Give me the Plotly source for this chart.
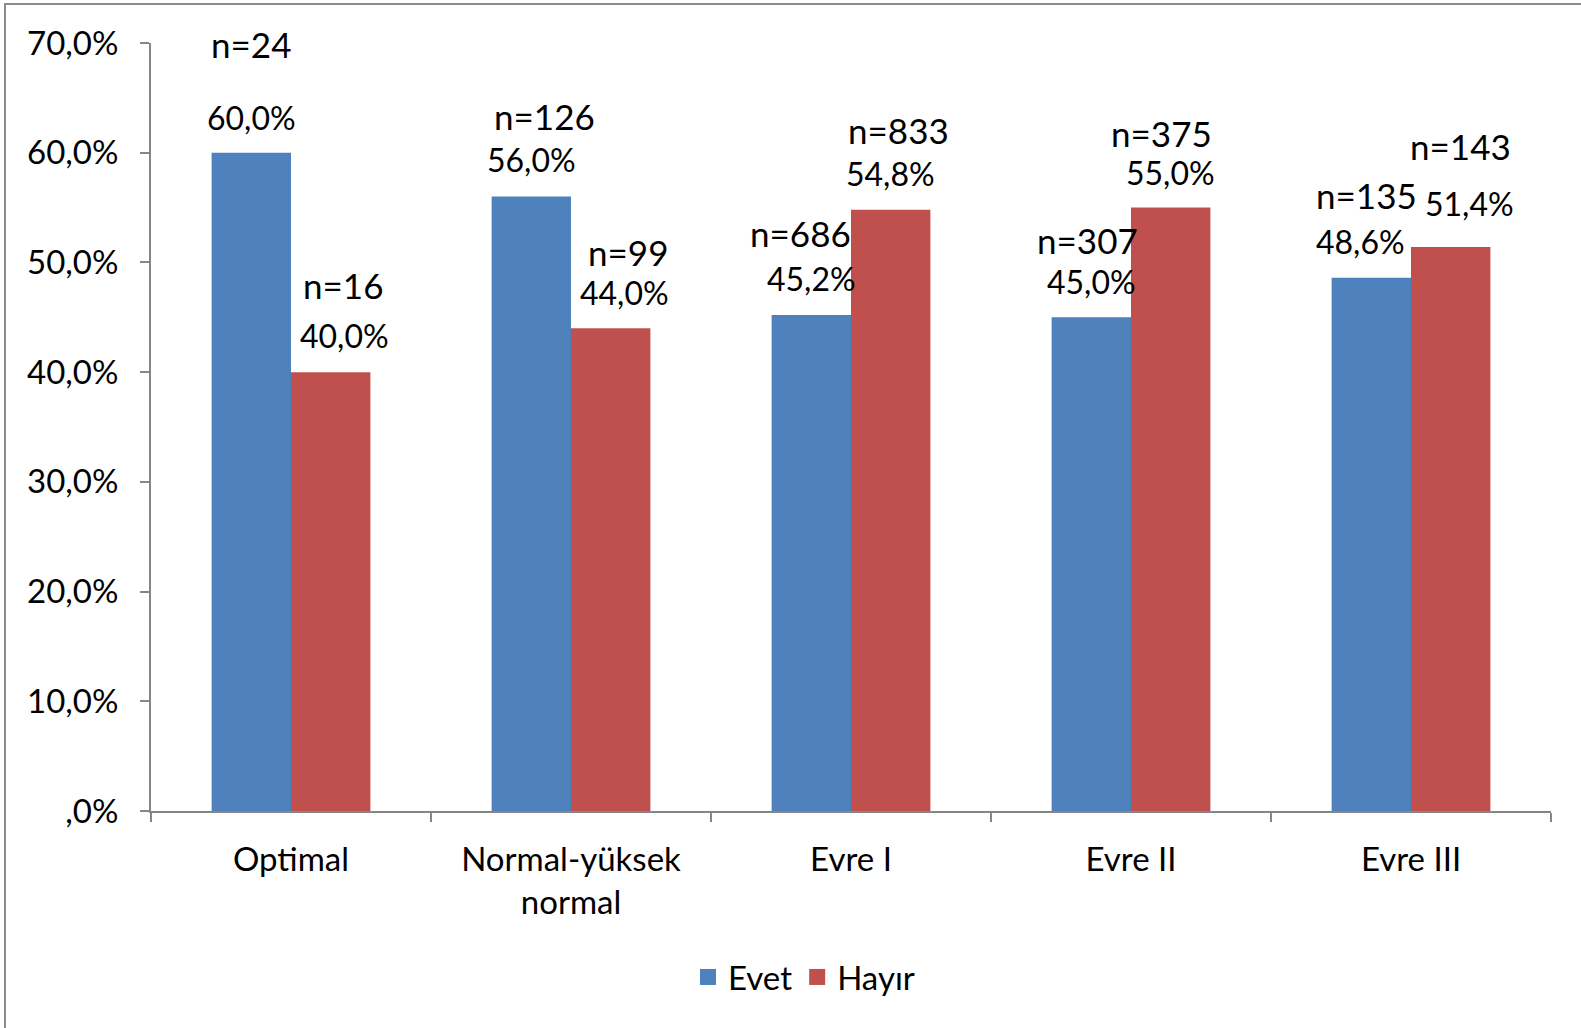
import plotly.graph_objects as go

# ---- data ----
categories = ["Optimal", "Normal-yüksek<br>normal", "Evre I", "Evre II", "Evre III"]
evet_pct = [60.0, 56.0, 45.2, 45.0, 48.6]
hayir_pct = [40.0, 44.0, 54.8, 55.0, 51.4]
evet_n = [24, 126, 686, 307, 135]
hayir_n = [16, 99, 833, 375, 143]
series_names = ["Evet", "Hayır"]
y_tickvals = [0, 10, 20, 30, 40, 50, 60, 70]
y_ticktext = [",0%", "10,0%", "20,0%", "30,0%", "40,0%", "50,0%", "60,0%", "70,0%"]

# ---- style / layout ----
W, H = 1581, 1028
ML, MR, MT, MB = 151, 30, 43, 217
BLUE, RED = "#4F81BD", "#C0504D"
GREY = "#868686"
FONT = "Lato"
BARGAP = 0.433

plot_w = W - ML - MR
plot_h = H - MT - MB
cat_px = plot_w / len(categories)
bar_off = cat_px * (1 - BARGAP) / 4  # pixel offset of each bar's centre from category centre

# manual label nudges (px) as in the original: (dx_pct, dy_pct, dx_n, dy_n)
evet_nudge = [(0, 35, 0, 109), (0, 37, 13, 81), (0, 37, -11, 82), (0, 36, -4, 77), (-11, 36, -5, 83)]
hayir_nudge = [(14, 37, 12, 87), (14, 36, 17, 76), (0, 36, 8, 80), (0, 35, -9, 75), (19, 44, 10, 101)]

fig = go.Figure()
fig.add_trace(go.Bar(x=categories, y=evet_pct, name=series_names[0], showlegend=False,
                     marker=dict(color=BLUE, line=dict(width=0))))
fig.add_trace(go.Bar(x=categories, y=hayir_pct, name=series_names[1], showlegend=False,
                     marker=dict(color=RED, line=dict(width=0))))
# legend entries with larger square keys
for name, col in zip(series_names, (BLUE, RED)):
    fig.add_trace(go.Scatter(x=[None], y=[None], mode="markers", name=name,
                             marker=dict(symbol="square", size=16, color=col), hoverinfo="skip"))


def fmt(v):
    return f"{v:.1f}".replace(".", ",") + "%"


annotations = []
for vals, ns, nudges, side in ((evet_pct, evet_n, evet_nudge, -1), (hayir_pct, hayir_n, hayir_nudge, 1)):
    for cat, v, n, (dxp, dyp, dxn, dyn) in zip(categories, vals, ns, nudges):
        annotations.append(dict(x=cat, y=v, xref="x", yref="y", text=fmt(v), showarrow=False,
                                xshift=side * bar_off + dxp, yshift=dyp, yanchor="middle",
                                font=dict(family=FONT, size=32, color="#000000")))
        annotations.append(dict(x=cat, y=v, xref="x", yref="y", text=f"n={n}", showarrow=False,
                                xshift=side * bar_off + dxn, yshift=dyn, yanchor="middle",
                                font=dict(family=FONT, size=35, color="#000000")))

# outer chart border (top and left visible)
x0 = (5 - ML) / plot_w
x1 = (W + 20 - ML) / plot_w
y1 = (H - MB - 4) / plot_h
y0 = (H - MB - (H + 20)) / plot_h

fig.update_layout(
    width=W, height=H,
    margin=dict(l=ML, r=MR, t=MT, b=MB, pad=0),
    paper_bgcolor="white", plot_bgcolor="white",
    barmode="group", bargap=BARGAP, bargroupgap=0,
    font=dict(family=FONT, size=33, color="#000000"),
    showlegend=True,
    legend=dict(orientation="h", x=(804 - ML) / plot_w, xanchor="center",
                y=(H - MB - 977) / plot_h, yanchor="middle",
                font=dict(family=FONT, size=33, color="#000000"),
                itemsizing="trace", bgcolor="rgba(0,0,0,0)"),
    annotations=annotations,
    shapes=[dict(type="rect", xref="paper", yref="paper", x0=x0, x1=x1, y0=y0, y1=y1,
                 line=dict(color="#8C8C8C", width=2), fillcolor="rgba(0,0,0,0)", layer="below")],
)

fig.update_yaxes(range=[0, 70], tickvals=y_tickvals, ticktext=y_ticktext,
                 showgrid=False, zeroline=False, showline=True, linecolor=GREY, linewidth=2,
                 ticks="outside", ticklen=9, tickwidth=2, tickcolor=GREY,
                 ticklabelstandoff=15, tickfont=dict(family=FONT, size=33, color="#000000"))
fig.update_xaxes(showgrid=False, zeroline=False, showline=True, linecolor=GREY, linewidth=2,
                 ticks="outside", ticklen=9, tickwidth=2, tickcolor=GREY, tickson="boundaries",
                 ticklabelstandoff=18, tickfont=dict(family=FONT, size=33, color="#000000"))

fig.write_html("out.html", config={"displayModeBar": False},
               post_script="document.body.style.margin='0';document.body.style.overflow='hidden';")
